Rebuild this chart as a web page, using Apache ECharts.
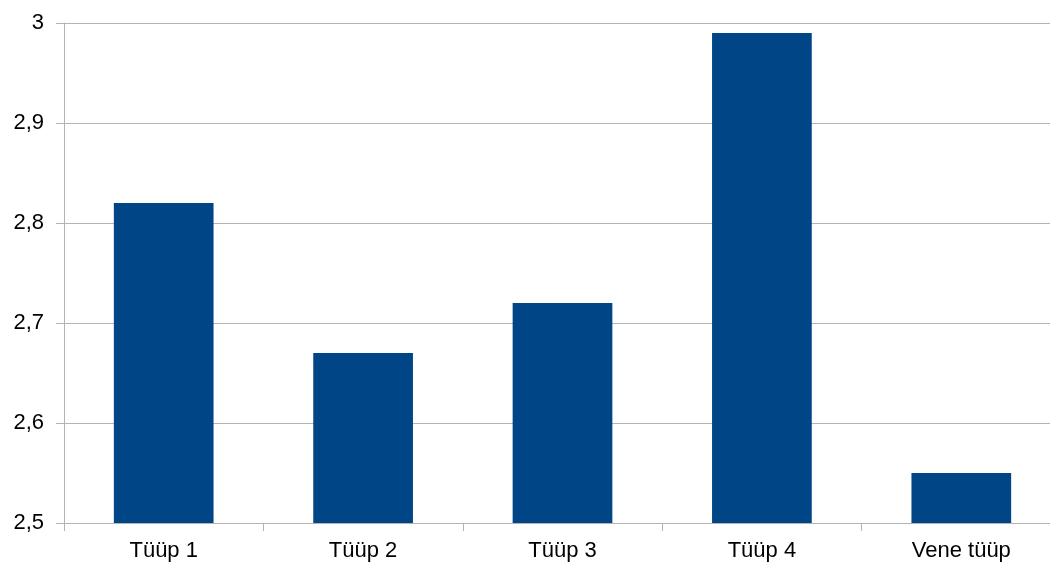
<!DOCTYPE html>
<html><head><meta charset="utf-8">
<script src="https://cdn.jsdelivr.net/npm/echarts@6/dist/echarts.min.js"></script>
<style>html,body{margin:0;padding:0;background:#fff}#c{width:1050px;height:571px}</style>
</head><body><div id="c"></div>
<script>
const categories = ['Tüüp 1', 'Tüüp 2', 'Tüüp 3', 'Tüüp 4', 'Vene tüüp'];
const values = [2.82, 2.67, 2.72, 2.99, 2.55];
const chart = echarts.init(document.getElementById('c'), null, {renderer: 'canvas'});
chart.setOption({
  animation: false,
  grid: {left: 64, top: 23, width: 997, bottom: 48, containLabel: false, outerBoundsMode: 'none'},
  xAxis: {
    type: 'category', data: categories,
    axisLine: {show: true, lineStyle: {color: '#b3b3b3', width: 1}},
    axisTick: {show: true, length: 8, lineStyle: {color: '#b3b3b3'}},
    axisLabel: {color: '#000', fontFamily: 'Liberation Sans', fontSize: 22, margin: 17}
  },
  yAxis: {
    type: 'value', min: 2.5, max: 3, interval: 0.1,
    axisLine: {show: true, lineStyle: {color: '#b3b3b3', width: 1}},
    axisTick: {show: true, length: 8, lineStyle: {color: '#b3b3b3'}},
    splitLine: {lineStyle: {color: '#b3b3b3', width: 1}},
    axisLabel: {color: '#000', fontFamily: 'Liberation Sans', fontSize: 22, margin: 20,
      formatter: v => String(Math.round(v * 10) / 10).replace('.', ',')}
  },
  series: [{type: 'bar', data: values, barWidth: '50%', itemStyle: {color: '#004586'}}]
});
</script></body></html>
